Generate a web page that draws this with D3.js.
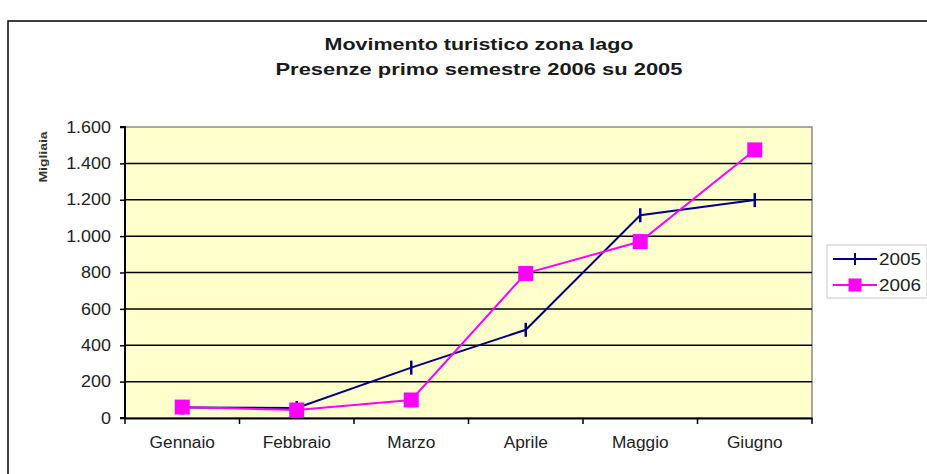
<!DOCTYPE html>
<html>
<head>
<meta charset="utf-8">
<script src="https://cdn.jsdelivr.net/npm/d3@7"></script>
<style>
  html, body { margin: 0; padding: 0; background: #fff; }
  svg { display: block; font-family: "Liberation Sans", Arial, sans-serif; }
</style>
</head>
<body>
<svg id="chart" width="927" height="474"></svg>
<script>
// ---- data ----
const categories = ["Gennaio", "Febbraio", "Marzo", "Aprile", "Maggio", "Giugno"];
const series2005 = [58, 55, 277, 485, 1115, 1198];
const series2006 = [60, 44, 99, 795, 970, 1474];
const seriesNames = ["2005", "2006"];
const yTicks = [0, 200, 400, 600, 800, 1000, 1200, 1400, 1600];
const titleLines = ["Movimento turistico zona lago", "Presenze primo semestre 2006 su 2005"];
const yAxisTitle = "Migliaia";

// ---- layout ----
const svg = d3.select("#chart");
const plot = { left: 125, right: 812, top: 127, bottom: 418 };
const colors = { s2005: "#000080", s2006: "#FF00FF" };

const itLocale = d3.formatLocale({ decimal: ",", thousands: ".", grouping: [3], currency: ["", "€"] });
const fmt = itLocale.format(",d");

const x = d3.scaleBand().domain(categories).range([plot.left, plot.right]).padding(0);
const y = d3.scaleLinear().domain([0, 1600]).range([plot.bottom, plot.top]);
const cx = d => x(d) + x.bandwidth() / 2;

function stretch(sel, k) {
  sel.each(function () {
    const w = this.getComputedTextLength();
    d3.select(this).attr("textLength", w * k).attr("lengthAdjust", "spacingAndGlyphs");
  });
}

// outer chart frame
svg.append("rect")
  .attr("x", 8).attr("y", 21).attr("width", 960).attr("height", 500)
  .attr("fill", "none").attr("stroke", "#000").attr("stroke-width", 1.5);

// title
titleLines.forEach((t, i) => {
  svg.append("text")
    .attr("x", 479).attr("y", 50 + i * 25)
    .attr("text-anchor", "middle")
    .attr("font-size", 16.5).attr("font-weight", "bold").attr("fill", "#1a1a1a")
    .attr("textLength", i === 0 ? 309 : 407)
    .attr("lengthAdjust", "spacingAndGlyphs")
    .text(t);
});

// plot background
svg.append("rect")
  .attr("x", plot.left).attr("y", plot.top)
  .attr("width", plot.right - plot.left).attr("height", plot.bottom - plot.top)
  .attr("fill", "#FFFFCC").attr("stroke", "#8a8a8a").attr("stroke-width", 1.5);

// gridlines
svg.append("g").selectAll("line").data(yTicks.filter(v => v > 0 && v < 1600)).join("line")
  .attr("x1", plot.left).attr("x2", plot.right)
  .attr("y1", d => y(d)).attr("y2", d => y(d))
  .attr("stroke", "#000").attr("stroke-width", 1.5);

// y axis
const yAxis = svg.append("g").attr("transform", `translate(${plot.left},0)`)
  .call(d3.axisLeft(y).tickValues(yTicks).tickFormat(fmt).tickSize(5).tickPadding(9));
yAxis.select(".domain").attr("stroke", "#000").attr("stroke-width", 2).attr("d", `M-5,${plot.top}H0V${plot.bottom}H-5`);
yAxis.selectAll(".tick line").attr("stroke", "#000").attr("stroke-width", 1.5);
yAxis.selectAll("text").attr("font-size", 16).attr("fill", "#222")
  .attr("font-family", "Liberation Sans, Arial, sans-serif");
stretch(yAxis.selectAll("text"), 1.12);

// x axis
const xAxis = svg.append("g").attr("transform", `translate(0,${plot.bottom})`)
  .call(d3.axisBottom(x).tickSize(0).tickPadding(19));
xAxis.select(".domain").attr("stroke", "#000").attr("stroke-width", 2);
xAxis.selectAll("text").attr("font-size", 16).attr("fill", "#222")
  .attr("font-family", "Liberation Sans, Arial, sans-serif");
stretch(xAxis.selectAll("text"), 1.08);
// boundary ticks
const bounds = categories.map(c => x(c)).concat([x(categories[categories.length - 1]) + x.bandwidth()]);
svg.append("g").selectAll("line").data(bounds).join("line")
  .attr("x1", d => d).attr("x2", d => d)
  .attr("y1", plot.bottom).attr("y2", plot.bottom + 6)
  .attr("stroke", "#000").attr("stroke-width", 1.5);

// y axis title
svg.append("text")
  .attr("transform", `translate(47,157) rotate(-90)`)
  .attr("text-anchor", "middle")
  .attr("font-size", 10.5).attr("font-weight", "bold").attr("fill", "#333")
  .attr("textLength", 51).attr("lengthAdjust", "spacingAndGlyphs")
  .text(yAxisTitle);

// lines
const line = d3.line().x((d, i) => cx(categories[i])).y(d => y(d));

svg.append("path").datum(series2005).attr("d", line)
  .attr("fill", "none").attr("stroke", colors.s2005).attr("stroke-width", 2);
svg.append("g").selectAll("line").data(series2005).join("line")
  .attr("x1", (d, i) => cx(categories[i])).attr("x2", (d, i) => cx(categories[i]))
  .attr("y1", d => y(d) - 7).attr("y2", d => y(d) + 7)
  .attr("stroke", colors.s2005).attr("stroke-width", 2.5);

svg.append("path").datum(series2006).attr("d", line)
  .attr("fill", "none").attr("stroke", colors.s2006).attr("stroke-width", 2);
svg.append("g").selectAll("rect").data(series2006).join("rect")
  .attr("x", (d, i) => cx(categories[i]) - 7.5).attr("y", d => y(d) - 7.5)
  .attr("width", 15).attr("height", 15)
  .attr("fill", colors.s2006);

// legend
const lg = svg.append("g");
lg.append("rect").attr("x", 827).attr("y", 245).attr("width", 100).attr("height", 53)
  .attr("fill", "#fff").attr("stroke", "#c8c8c8").attr("stroke-width", 1);
seriesNames.forEach((name, i) => {
  const yy = 259 + i * 26;
  const col = i === 0 ? colors.s2005 : colors.s2006;
  lg.append("line").attr("x1", 833).attr("x2", 877).attr("y1", yy).attr("y2", yy)
    .attr("stroke", col).attr("stroke-width", 2);
  if (i === 0) {
    lg.append("line").attr("x1", 855).attr("x2", 855).attr("y1", yy - 6).attr("y2", yy + 6)
      .attr("stroke", col).attr("stroke-width", 2);
  } else {
    lg.append("rect").attr("x", 848.5).attr("y", yy - 6.5).attr("width", 13).attr("height", 13)
      .attr("fill", col);
  }
  lg.append("text").attr("x", 879).attr("y", yy + 6)
    .attr("font-size", 17).attr("fill", "#222")
    .attr("textLength", 42).attr("lengthAdjust", "spacingAndGlyphs")
    .text(name);
});
</script>
</body>
</html>
